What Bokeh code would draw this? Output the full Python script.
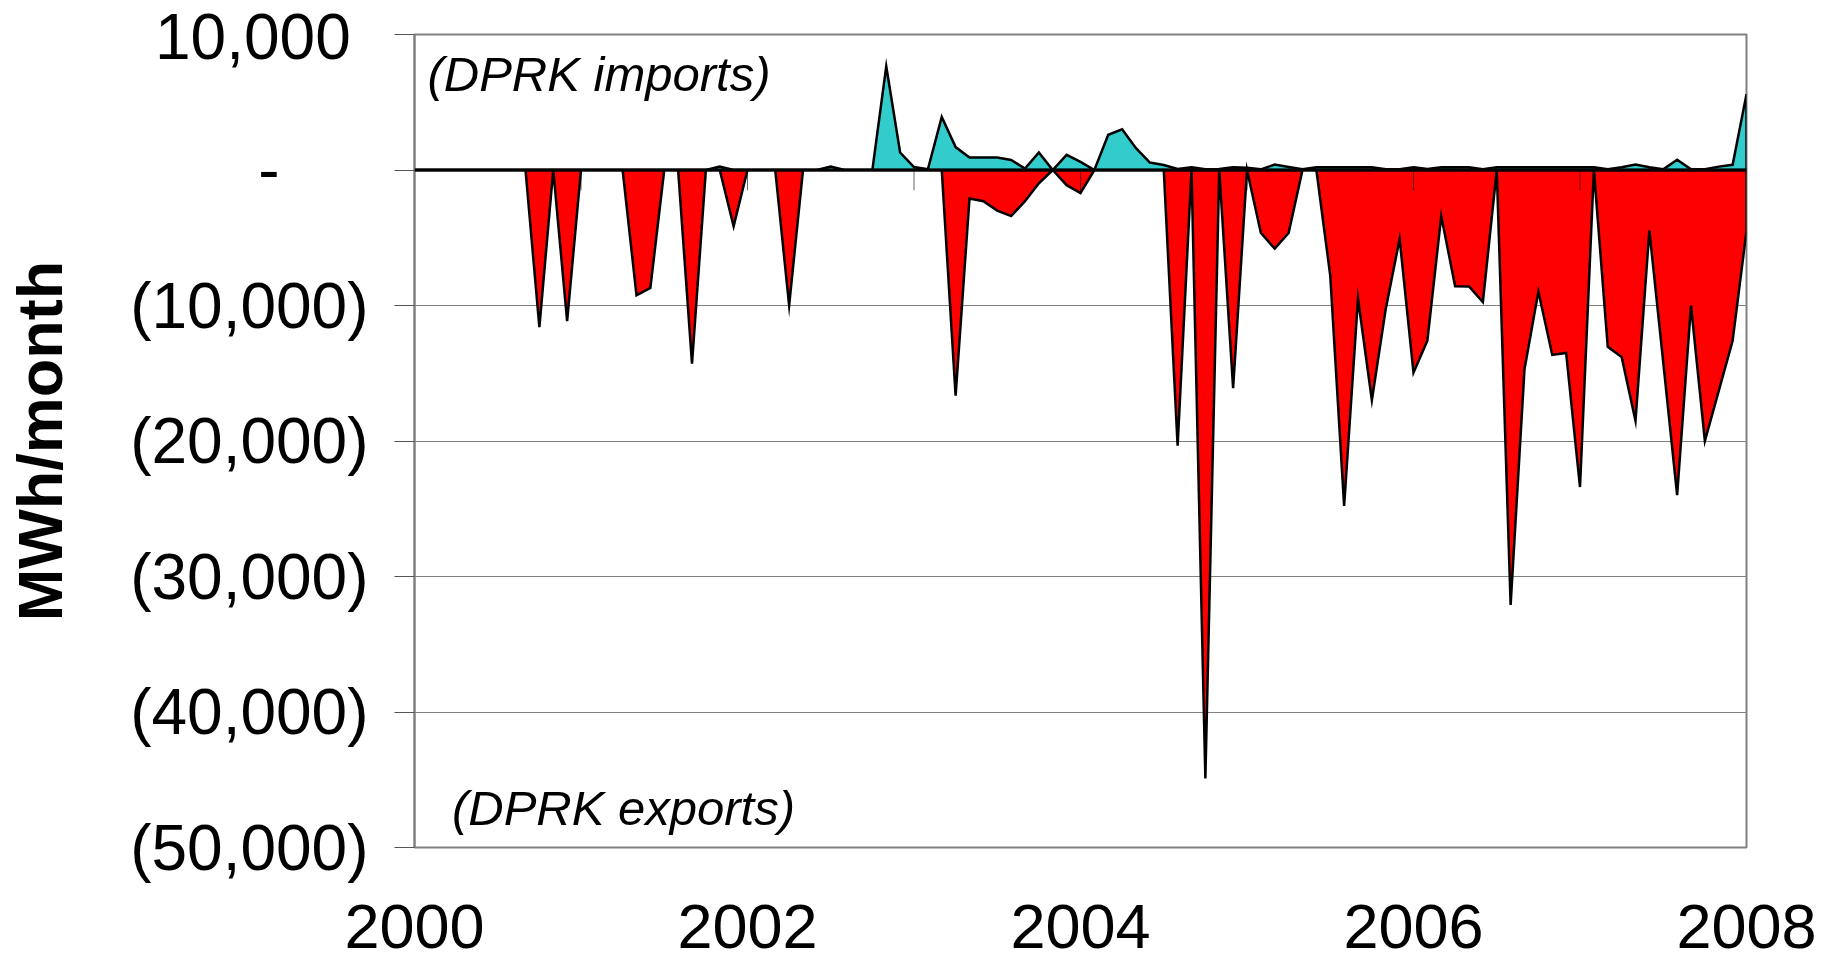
import pandas as pd
from bokeh.plotting import figure
from bokeh.models import Range1d, FixedTicker, Span, Label
from bokeh.embed import file_html
from bokeh.resources import INLINE

# Monthly observations, Jan 2000 .. Jan 2008
months = pd.date_range("2000-01-01", "2008-01-01", freq="MS")
x = [d.year + (d.month - 1) / 12 for d in months]

# DPRK imports (MWh/month, positive)
imports = [
    0, 0, 0, 0, 0, 0, 0, 0, 0, 0, 0, 0,
    0, 0, 0, 0, 0, 0, 0, 0, 0, 0, 250, 0,
    0, 0, 0, 0, 0, 0, 250, 0, 0, 0, 7650, 1290,
    220, 50, 3920, 1690, 920, 920, 920, 740, 100, 1290, 0, 1120,
    600, 0, 2600, 3000, 1610, 550, 370, 70, 200, 50, 70, 200,
    170, 50, 400, 220, 50, 200, 200, 200, 200, 200, 50, 50,
    200, 70, 200, 200, 200, 50, 200, 200, 200, 200, 200, 200,
    200, 200, 50, 200, 400, 200, 50, 750, 50, 50, 250, 380,
    5600,
]

# DPRK exports (MWh/month, negative)
exports = [
    0, 0, 0, 0, 0, 0, 0, 0, 0, -11600, 0, -11150,
    0, 0, 0, 0, -9250, -8700, 0, 0, -14300, 0, 0, -4150,
    0, 0, 0, -10000, 0, 0, 0, 0, 0, 0, 0, 0,
    0, 0, 0, -16650, -2100, -2300, -3000, -3400, -2300, -980, 0, -1120,
    -1700, 0, 0, 0, 0, 0, 0, -20350, 0, -44900, 0, -16100,
    0, -4650, -5800, -4650, 0, 0, -7800, -24800, -9500, -17000, -10250, -5080,
    -14950, -12600, -3400, -8580, -8600, -9750, 0, -32100, -14700, -8970, -13650, -13500,
    -23400, 0, -13050, -13800, -18500, -4470, -14200, -24000, -10000, -20000, -16300, -12600,
    -4500,
]

y_ticks = [10000, 0, -10000, -20000, -30000, -40000, -50000]
y_tick_labels = ["10,000", "-", "(10,000)", "(20,000)", "(30,000)", "(40,000)", "(50,000)"]
x_ticks = [2000, 2002, 2004, 2006, 2008]
x_tick_labels = ["2000", "2002", "2004", "2006", "2008"]
year_marks = [2001, 2002, 2003, 2004, 2005, 2006, 2007]

NB = "\u00a0"
def pad(lbl):
    if lbl == "-":
        return "-" + NB * 5
    if lbl.startswith("("):
        return lbl
    return lbl + NB

FONT = "Liberation Sans"

p = figure(width=1837, height=965,
           x_range=Range1d(2000, 2008), y_range=Range1d(-50000, 10000),
           output_backend="svg", toolbar_location=None,
           min_border_left=414, min_border_right=91,
           min_border_top=34, min_border_bottom=118)
p.background_fill_color = "white"
p.border_fill_color = "white"
p.outline_line_color = "#808080"
p.outline_line_width = 2

# grid
p.xgrid.grid_line_color = None
p.ygrid.ticker = FixedTicker(ticks=y_ticks)
p.ygrid.grid_line_color = "#808080"
p.ygrid.grid_line_width = 1

# y axis
ya = p.yaxis[0]
ya.ticker = FixedTicker(ticks=y_ticks)
ya.major_label_overrides = {t: pad(l) for t, l in zip(y_ticks, y_tick_labels)}
ya.major_label_text_font = FONT
ya.major_label_text_font_size = "64px"
ya.major_label_text_color = "black"
ya.major_label_standoff = 26
ya.major_tick_out = 20
ya.major_tick_in = 0
ya.major_tick_line_color = "#555555"
ya.minor_tick_line_color = None
ya.axis_line_color = "#808080"
ya.axis_line_width = 2
ya.axis_label = "MWh/month"
ya.axis_label_text_font = FONT
ya.axis_label_text_font_style = "bold"
ya.axis_label_text_font_size = "63px"
ya.axis_label_text_color = "black"
ya.axis_label_standoff = 52

# x axis
xa = p.xaxis[0]
xa.ticker = FixedTicker(ticks=x_ticks)
xa.major_label_overrides = {t: l for t, l in zip(x_ticks, x_tick_labels)}
xa.major_label_text_font = FONT
xa.major_label_text_font_size = "63px"
xa.major_label_text_color = "black"
xa.major_label_standoff = 57
xa.major_tick_out = 0
xa.major_tick_in = 0
xa.major_tick_line_color = None
xa.minor_tick_line_color = None
xa.axis_line_color = None

# areas
p.patch(x + [x[-1], x[0]], exports + [0, 0], fill_color="#FF0000",
        line_color="black", line_width=2.5, line_join="miter")
p.patch(x + [x[-1], x[0]], imports + [0, 0], fill_color="#33CCCC",
        line_color="black", line_width=2.5, line_join="miter")

# category axis at zero with yearly tick marks
p.add_layout(Span(location=0, dimension="width", line_color="black", line_width=3))
p.segment(x0=year_marks, y0=[0] * len(year_marks), x1=year_marks,
          y1=[-1500] * len(year_marks), line_color="black", line_alpha=0.6, line_width=1)

p.add_layout(Label(x=2000.078, y=7120, text="(DPRK imports)", text_font=FONT,
                   text_font_style="italic", text_font_size="49px",
                   text_color="black", text_baseline="middle"))
p.add_layout(Label(x=2000.225, y=-47100, text="(DPRK exports)", text_font=FONT,
                   text_font_style="italic", text_font_size="49px",
                   text_color="black", text_baseline="middle"))

open("out.html", "w").write(file_html(p, INLINE))
